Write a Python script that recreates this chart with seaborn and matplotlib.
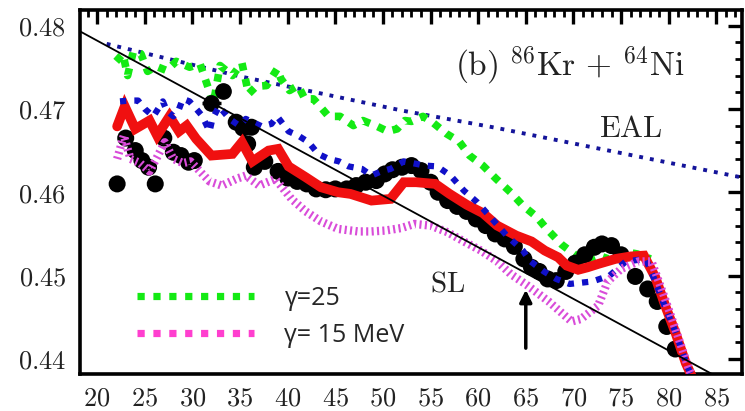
import matplotlib
matplotlib.use("Agg")
import matplotlib.pyplot as plt
import seaborn as sns
import pandas as pd
from matplotlib.ticker import MultipleLocator, FuncFormatter
from matplotlib.lines import Line2D

# ---------------- data ----------------
# systematic lines
sl_x = [18.2, 86.0]
sl_y = [0.4793, 0.4373]
eal_x = [21.0, 35.0, 52.0, 62.0, 88.0]
eal_y = [0.4778, 0.4739, 0.4698, 0.4677, 0.4617]

# gamma = 25 calculation
g25_x = [22.0, 22.7, 23.2, 23.8, 24.6, 25.3, 26.2, 27.3, 28.3, 29.7, 30.8, 31.7,
         32.2, 32.9, 34.2, 35.2, 35.9, 36.7, 37.8, 38.9, 39.3, 40.2, 41.1, 41.8,
         42.7, 43.4, 44.3, 45.5, 46.9, 47.9, 49.4, 50.5, 51.5, 52.3, 53.0, 54.2,
         55.2, 56.7, 58.0, 59.1, 60.5, 61.9, 63.4, 64.7, 66.1, 67.2, 68.8, 70.3,
         71.3, 72.7, 73.7, 75.2, 76.7, 78.1]
g25_y = [0.4757, 0.4766, 0.4740, 0.4769, 0.4766, 0.4745, 0.4751, 0.4746, 0.4757, 0.4750, 0.4754, 0.4724,
         0.4706, 0.4752, 0.4740, 0.4755, 0.4718, 0.4727, 0.4728, 0.4748, 0.4736, 0.4722, 0.4728, 0.4712,
         0.4712, 0.4703, 0.4691, 0.4691, 0.4680, 0.4686, 0.4679, 0.4673, 0.4676, 0.4686, 0.4685, 0.4691,
         0.4684, 0.4670, 0.4661, 0.4644, 0.4632, 0.4616, 0.4600, 0.4584, 0.4571, 0.4556, 0.4537, 0.4524,
         0.4518, 0.4524, 0.4520, 0.4529, 0.4526, 0.4520]

# intermediate calculation (blue)
blue_x = [22.4, 23.4, 24.3, 25.0, 25.9, 26.9, 27.3, 28.0, 28.6, 29.0, 29.7, 30.4,
          31.0, 31.8, 32.1, 32.8, 33.9, 34.9, 35.6, 37.3, 38.3, 38.9, 40.1, 41.1,
          42.2, 43.2, 44.3, 45.4, 46.4, 47.8, 48.8, 49.8, 50.8, 52.2, 54.4, 55.7,
          57.1, 58.5, 59.9, 61.0, 63.0, 64.7, 65.4, 66.9, 68.2, 69.6, 72.0, 73.8,
          75.5, 77.6, 78.6, 79.7, 80.7, 82.0, 82.6]
blue_y = [0.4709, 0.4710, 0.4710, 0.4700, 0.4691, 0.4709, 0.4698, 0.4691, 0.4700, 0.4712, 0.4709, 0.4700,
          0.4692, 0.4673, 0.4688, 0.4703, 0.4688, 0.4680, 0.4688, 0.4679, 0.4682, 0.4691, 0.4673, 0.4668,
          0.4660, 0.4646, 0.4640, 0.4637, 0.4631, 0.4628, 0.4620, 0.4625, 0.4628, 0.4637, 0.4632, 0.4631,
          0.4620, 0.4602, 0.4588, 0.4574, 0.4548, 0.4530, 0.4518, 0.4505, 0.4496, 0.4490, 0.4493, 0.4500,
          0.4517, 0.4520, 0.4493, 0.4460, 0.4433, 0.4390, 0.4375]

# full calculation (red)
red_x = [22.1, 22.9, 24.0, 25.5, 26.3, 27.6, 28.6, 29.4, 30.4, 32.0, 34.2, 35.2,
         36.3, 38.0, 39.0, 40.1, 41.9, 43.5, 45.3, 46.6, 48.8, 50.8, 52.2, 53.5,
         55.5, 57.0, 58.8, 60.5, 62.0, 64.0, 65.6, 67.0, 68.4, 69.3, 70.5, 71.5,
         72.6, 74.4, 76.0, 77.4, 78.6, 79.7, 80.7, 81.8, 82.6]
red_y = [0.4679, 0.4703, 0.4676, 0.4686, 0.4668, 0.4691, 0.4673, 0.4680, 0.4664, 0.4644, 0.4646, 0.4660,
         0.4637, 0.4650, 0.4652, 0.4631, 0.4618, 0.4606, 0.4600, 0.4598, 0.4590, 0.4592, 0.4612, 0.4612,
         0.4610, 0.4598, 0.4585, 0.4575, 0.4560, 0.4548, 0.4541, 0.4530, 0.4522, 0.4512, 0.4507, 0.4510,
         0.4514, 0.4520, 0.4523, 0.4524, 0.4498, 0.4462, 0.4432, 0.4395, 0.4375]

# gamma = 15 MeV calculation
g15_x = [22.1, 22.8, 23.5, 24.5, 25.5, 26.2, 27.1, 28.0, 29.0, 29.8, 30.8, 31.8,
         33.1, 34.6, 35.6, 37.0, 38.7, 40.4, 41.9, 43.5, 45.3, 47.4, 48.8, 50.2,
         51.9, 53.3, 55.0, 56.8, 58.5, 60.3, 62.0, 63.4, 65.2, 67.4, 69.8, 70.8,
         72.6, 73.6, 75.0, 76.8, 78.2, 79.5, 80.8, 82.0, 82.6]
g15_y = [0.4640, 0.4668, 0.4640, 0.4635, 0.4625, 0.4640, 0.4660, 0.4640, 0.4635, 0.4637, 0.4625, 0.4613,
         0.4608, 0.4616, 0.4620, 0.4608, 0.4616, 0.4592, 0.4577, 0.4565, 0.4556, 0.4553, 0.4553, 0.4554,
         0.4557, 0.4562, 0.4560, 0.4552, 0.4541, 0.4530, 0.4517, 0.4502, 0.4488, 0.4469, 0.4445, 0.4448,
         0.4464, 0.4493, 0.4508, 0.4517, 0.4517, 0.4476, 0.4433, 0.4392, 0.4375]

# experimental points
exp_x = [22.1, 26.1, 23.0, 24.0, 24.7, 25.4, 27.0, 28.0, 28.8, 29.6, 30.2,
         34.6, 35.3, 36.2, 35.8, 36.5, 37.6, 39.0, 40.0, 41.0, 42.0, 43.0, 44.0,
         45.0, 46.2, 47.2, 48.2, 49.3, 50.2, 51.0, 52.0, 53.0, 54.0, 55.0, 55.8,
         56.8, 57.8, 58.8, 59.8, 60.8, 61.8, 62.8, 63.8, 64.8, 65.6, 66.4, 67.3,
         68.2, 69.2, 70.2, 71.2, 72.2, 73.0, 74.0, 75.0, 76.5, 77.8, 78.8, 79.8, 80.7]
exp_y = [0.4610, 0.4610, 0.4665, 0.4650, 0.4638, 0.4630, 0.4665, 0.4648, 0.4644, 0.4636, 0.4638,
         0.4684, 0.4677, 0.4678, 0.4658, 0.4630, 0.4637, 0.4625, 0.4617, 0.4613, 0.4610, 0.4604, 0.4603,
         0.4604, 0.4604, 0.4608, 0.4612, 0.4614, 0.4622, 0.4627, 0.4630, 0.4632, 0.4626, 0.4612, 0.4600,
         0.4590, 0.4583, 0.4577, 0.4568, 0.4560, 0.4550, 0.4544, 0.4535, 0.4520, 0.4510, 0.4505, 0.4496,
         0.4494, 0.4505, 0.4515, 0.4525, 0.4534, 0.4538, 0.4536, 0.4525, 0.4499, 0.4484, 0.4469, 0.4439, 0.4412]
# points with horizontal error bars
err_x = [32.0, 33.2]
err_y = [0.4707, 0.4722]
err_dx = [1.0, 0.7]

# arrow marking A = 65
arrow_x = 65
arrow_y = (0.4413, 0.4483)

legend_labels = ["γ=25", "γ= 15 MeV"]

# ---------------- style ----------------
sns.set_style("white")
plt.rcParams["mathtext.fontset"] = "cm"
plt.rcParams["font.family"] = ["DejaVu Sans"]

GREEN = "#14ea14"
BLUE = "#1010c8"
NAVY = "#14149a"
RED = "#f01010"
MAGENTA = "#d94cd9"

fig = plt.figure(figsize=(7.45, 4.11), dpi=100)
ax = fig.add_axes([80 / 745, 1 - 374 / 411, (742 - 80) / 745, (374 - 10) / 411])


def curve(x, y, **kw):
    df = pd.DataFrame({"x": x, "y": y})
    sns.lineplot(data=df, x="x", y="y", ax=ax, sort=False, estimator=None, **kw)


curve(eal_x, eal_y, color=NAVY, lw=2.8, linestyle=(0, (1, 1.8)),
      dash_capstyle="butt", zorder=2)
curve(g25_x, g25_y, color=GREEN, lw=5.5, linestyle=(0, (1, 1.1)),
      dash_capstyle="butt", zorder=3)

sns.scatterplot(x=exp_x, y=exp_y, ax=ax, color="black", s=150, edgecolor="none", zorder=4)
ax.errorbar(err_x, err_y, xerr=err_dx, fmt="o", color="black", ms=11,
            elinewidth=2.5, capsize=0, zorder=4)

curve(red_x, red_y, color=RED, lw=7, solid_joinstyle="miter", zorder=5)
curve(blue_x, blue_y, color=BLUE, lw=4.5, linestyle=(0, (1, 1.3)),
      dash_capstyle="butt", zorder=6)
curve(g15_x, g15_y, color=MAGENTA, lw=6, linestyle=(0, (0.25, 0.4)),
      dash_capstyle="butt", zorder=7)
curve(sl_x, sl_y, color="black", lw=1.3, zorder=8)

ax.annotate("", xy=(arrow_x, arrow_y[1]), xytext=(arrow_x, arrow_y[0]),
            arrowprops=dict(arrowstyle="-|>", color="black", lw=2.5,
                            mutation_scale=18, shrinkA=0, shrinkB=0), zorder=9)

# ---------------- axes ----------------
ax.set_xlim(18.2, 87.7)
ax.set_ylim(0.4382, 0.48186)
ax.set_xlabel("")
ax.set_ylabel("")
ax.xaxis.set_major_locator(MultipleLocator(5))
ax.xaxis.set_minor_locator(MultipleLocator(1))
ax.yaxis.set_major_locator(MultipleLocator(0.01))
ax.yaxis.set_minor_locator(MultipleLocator(0.002))
ax.xaxis.set_major_formatter(FuncFormatter(lambda v, p: f"${v:.0f}$"))
ax.yaxis.set_major_formatter(FuncFormatter(lambda v, p: f"${v:.2f}$"))
ax.tick_params(which="both", direction="in", top=True, right=True,
               color="black", labelsize=19, labelcolor="#222222")
ax.tick_params(which="major", length=10, width=2.4)
ax.tick_params(which="minor", length=5, width=2.0)
ax.tick_params(axis="x", pad=8)
ax.tick_params(axis="y", pad=10)
for sp in ax.spines.values():
    sp.set_linewidth(2.6)
    sp.set_color("black")

# ---------------- labels ----------------
ax.text(57.6, 0.4752, r"$\mathrm{(b)}\ {}^{86}\mathrm{Kr}\,+\,{}^{64}\mathrm{Ni}$",
        fontsize=24, va="center", ha="left", color="#222222")
ax.text(76.0, 0.4676, r"$\mathrm{EAL}$", fontsize=22, va="center", ha="center", color="#222222")
ax.text(56.8, 0.4490, r"$\mathrm{SL}$", fontsize=21, va="center", ha="center", color="#222222")

handles = [
    Line2D([], [], color=GREEN, lw=5.2, linestyle=(0, (1, 1.2)), dash_capstyle="butt"),
    Line2D([], [], color="#ff3fcf", lw=5.2, linestyle=(0, (1, 1.2)), dash_capstyle="butt"),
]
ax.legend(handles, legend_labels, loc="upper left", bbox_to_anchor=(0.086, 0.242),
          frameon=False, handlelength=4.7, handletextpad=1.2, labelspacing=0.47,
          borderpad=0, borderaxespad=0, prop={"family": "Open Sans", "size": 18})

fig.savefig("out.png", dpi=100)
